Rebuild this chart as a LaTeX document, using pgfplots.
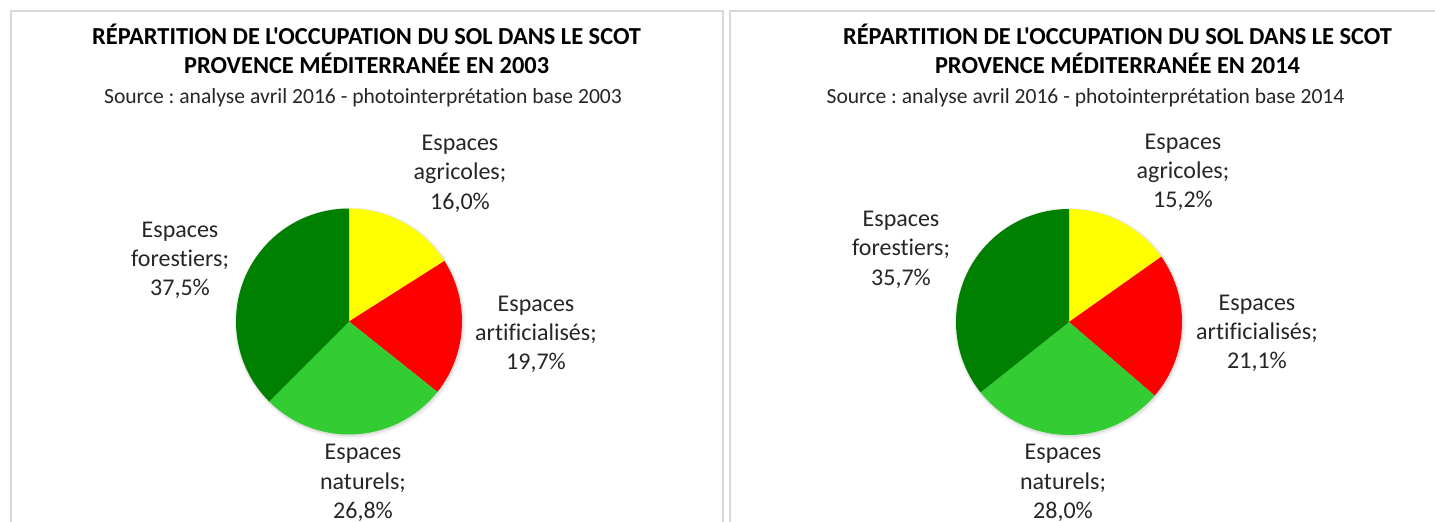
\documentclass[border=0pt]{standalone}
\usepackage{pgfplots}
\pgfplotsset{compat=1.18}
\usepackage{pgfplotstable}
\usepackage{fontspec}
\setmainfont{Carlito}[Ligatures={TeXOff,CommonOff}]
\frenchspacing

\definecolor{agri}{HTML}{FFFF00}
\definecolor{arti}{HTML}{FF0000}
\definecolor{natu}{HTML}{33CC33}
\definecolor{fore}{HTML}{008000}
\definecolor{frame}{HTML}{D9D9D9}
\definecolor{txt}{HTML}{262626}

% shares in percent, clockwise from 12 o'clock
\pgfplotstableread{
share colour
16.0 agri
19.7 arti
26.8 natu
37.5 fore
}\dataA
\pgfplotstableread{
share colour
15.2 agri
21.1 arti
28.0 natu
35.7 fore
}\dataB

\newcommand{\pieR}{113pt}
\newcommand{\drawpie}[1]{%
  \pgfplotstablegetrowsof{#1}\pgfmathtruncatemacro{\nrows}{\pgfplotsretval-1}%
  \gdef\cum{0}%
  \foreach \i in {0,...,\nrows}{%
    \pgfplotstablegetelem{\i}{share}\of{#1}\let\v\pgfplotsretval
    \pgfplotstablegetelem{\i}{colour}\of{#1}\let\c\pgfplotsretval
    \pgfmathsetmacro{\a}{90-3.6*\cum}%
    \pgfmathsetmacro{\b}{90-3.6*(\cum+\v)}%
    \edef\temp{\noexpand\fill[\c] (axis cs:0,0) -- ++(\a:\pieR) arc[start angle=\a, end angle=\b, radius=\pieR] -- cycle;}%
    \temp
    \pgfmathsetmacro{\nc}{\cum+\v}\global\let\cum\nc
  }%
}

\newcommand{\lbl}[5]{% x, baseline y (down), three lines
  \node[anchor=base, text=txt, inner sep=0pt, font=\fontsize{24}{29}\selectfont] at (#1pt,-#2pt) {#3};
  \node[anchor=base, text=txt, inner sep=0pt, font=\fontsize{24}{29}\selectfont] at (#1pt,-#2pt-29.2pt) {#4};
  \node[anchor=base, text=txt, inner sep=0pt, font=\fontsize{24}{29}\selectfont] at (#1pt,-#2pt-58.4pt) {#5};
}

\pgfplotsset{piestyle/.style={anchor=center, width=226pt, height=226pt, scale only axis,
  xmin=-1, xmax=1, ymin=-1, ymax=1, hide axis, clip=false}}

\begin{document}
\begin{tikzpicture}[x=1pt, y=1pt]
\clip (0pt,0pt) rectangle (1435pt,-522pt);
\fill[white] (0pt,0pt) rectangle (1435pt,-522pt);
% panel frames
\draw[frame, line width=2pt] (10.5pt,-10.5pt) rectangle (722.5pt,-560pt);
\draw[frame, line width=2pt] (729.5pt,-10.5pt) rectangle (1460pt,-560pt);

% titles
\node[anchor=base, inner sep=0pt, font=\fontsize{24.4}{29}\selectfont\bfseries] at (366.6pt,-44pt) {RÉPARTITION DE L'OCCUPATION DU SOL DANS LE SCOT};
\node[anchor=base, inner sep=0pt, font=\fontsize{24.4}{29}\selectfont\bfseries] at (366.6pt,-73pt) {PROVENCE MÉDITERRANÉE EN 2003};
\node[anchor=base, inner sep=0pt, text=txt, font=\fontsize{21.6}{26}\selectfont] at (363pt,-103pt) {Source : analyse avril 2016 - photointerprétation base 2003};

\node[anchor=base, inner sep=0pt, font=\fontsize{24.4}{29}\selectfont\bfseries] at (1117.5pt,-44pt) {RÉPARTITION DE L'OCCUPATION DU SOL DANS LE SCOT};
\node[anchor=base, inner sep=0pt, font=\fontsize{24.4}{29}\selectfont\bfseries] at (1117.5pt,-73pt) {PROVENCE MÉDITERRANÉE EN 2014};
\node[anchor=base, inner sep=0pt, text=txt, font=\fontsize{21.6}{26}\selectfont] at (1085.5pt,-103pt) {Source : analyse avril 2016 - photointerprétation base 2014};

% pie 2003
\begin{axis}[piestyle, at={(349pt,-321.5pt)}]
  \fill[black, opacity=0.05] (axis cs:0,0) ++(1pt,-1.5pt) circle[radius=115.5pt];
  \fill[black, opacity=0.07] (axis cs:0,0) ++(0.7pt,-1pt) circle[radius=114pt];
  \drawpie{\dataA}
\end{axis}
% pie 2014
\begin{axis}[piestyle, at={(1069pt,-322pt)}]
  \fill[black, opacity=0.05] (axis cs:0,0) ++(1pt,-1.5pt) circle[radius=115.5pt];
  \fill[black, opacity=0.07] (axis cs:0,0) ++(0.7pt,-1pt) circle[radius=114pt];
  \drawpie{\dataB}
\end{axis}

% labels 2003
\lbl{460}{150.7}{Espaces}{agricoles;}{16,0\%}
\lbl{536}{311}{Espaces}{artificialisés;}{19,7\%}
\lbl{363}{459.8}{Espaces}{naturels;}{26,8\%}
\lbl{180}{237}{Espaces}{forestiers;}{37,5\%}
% labels 2014
\lbl{1183}{149}{Espaces}{agricoles;}{15,2\%}
\lbl{1257}{310}{Espaces}{artificialisés;}{21,1\%}
\lbl{1063}{459.8}{Espaces}{naturels;}{28,0\%}
\lbl{901}{226.7}{Espaces}{forestiers;}{35,7\%}
\end{tikzpicture}
\end{document}
